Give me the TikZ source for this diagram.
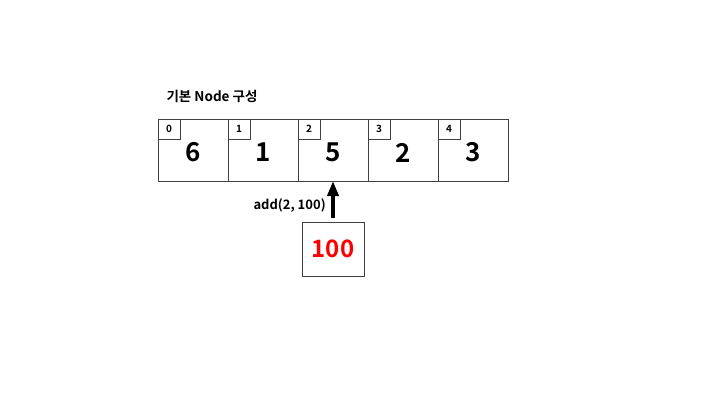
\documentclass[tikz,border=0pt]{standalone}
\usepackage{fontspec}
\setmainfont{Noto Sans CJK KR}[BoldFont={Noto Sans CJK KR Bold}]
\usetikzlibrary{positioning,arrows.meta}

\begin{document}
\begin{tikzpicture}[
        x=1pt, y=-1pt,
        node distance=0pt,
        font=\bfseries,
        cell/.style={
            rectangle,
            draw=black!75,
            line width=0.8pt,
            minimum width=70pt,
            minimum height=62pt,
            inner sep=0pt,
            outer sep=0pt
        },
        idx/.style={
            rectangle,
            draw=black!75,
            line width=0.8pt,
            minimum width=22pt,
            minimum height=20pt,
            inner sep=0pt,
            outer sep=0pt,
            anchor=north west,
            font=\fontsize{10}{10}\bfseries\selectfont
        },
        val/.style={
            font=\fontsize{26}{26}\bfseries\selectfont,
            inner sep=0pt
        },
        arrow/.style={
            -{Triangle[width=11pt,length=15pt]},
            line width=4pt
        }
    ]

    \useasboundingbox (0,0) rectangle (720,405);

    % Array cells
    \node[cell] (c0) at (193,150) {};
    \node[cell, right=of c0] (c1) {};
    \node[cell, right=of c1] (c2) {};
    \node[cell, right=of c2] (c3) {};
    \node[cell, right=of c3] (c4) {};

    % Index boxes
    \node[idx] (i0) at (c0.north west) {0};
    \node[idx] (i1) at (c1.north west) {1};
    \node[idx] (i2) at (c2.north west) {2};
    \node[idx] (i3) at (c3.north west) {3};
    \node[idx] (i4) at (c4.north west) {4};

    % Values
    \node[val] (v0) at ([yshift=-2.5pt]c0.center) {6};
    \node[val] (v1) at ([yshift=-2.5pt]c1.center) {1};
    \node[val] (v2) at ([yshift=-2.5pt]c2.center) {5};
    \node[val] (v3) at ([yshift=-2.5pt]c3.center) {2};
    \node[val] (v4) at ([yshift=-2.5pt]c4.center) {3};

    % Title
    \node[anchor=west, font=\fontsize{13.5}{13.5}\bfseries\selectfont]
        (title) at ([xshift=5pt,yshift=23pt]c0.north west) {기본 Node 구성};

    % New node to insert
    \node[cell, minimum width=62pt, minimum height=54pt,
          below=41pt of c2, font=\fontsize{24}{24}\bfseries\selectfont,
          text=red] (new) {100};

    % Insert arrow
    \draw[arrow, shorten <=4pt] (new) -- (c2)
        node[pos=0.4, left=2pt, font=\fontsize{13}{13}\bfseries\selectfont] (op) {add(2, 100)};

\end{tikzpicture}
\end{document}
